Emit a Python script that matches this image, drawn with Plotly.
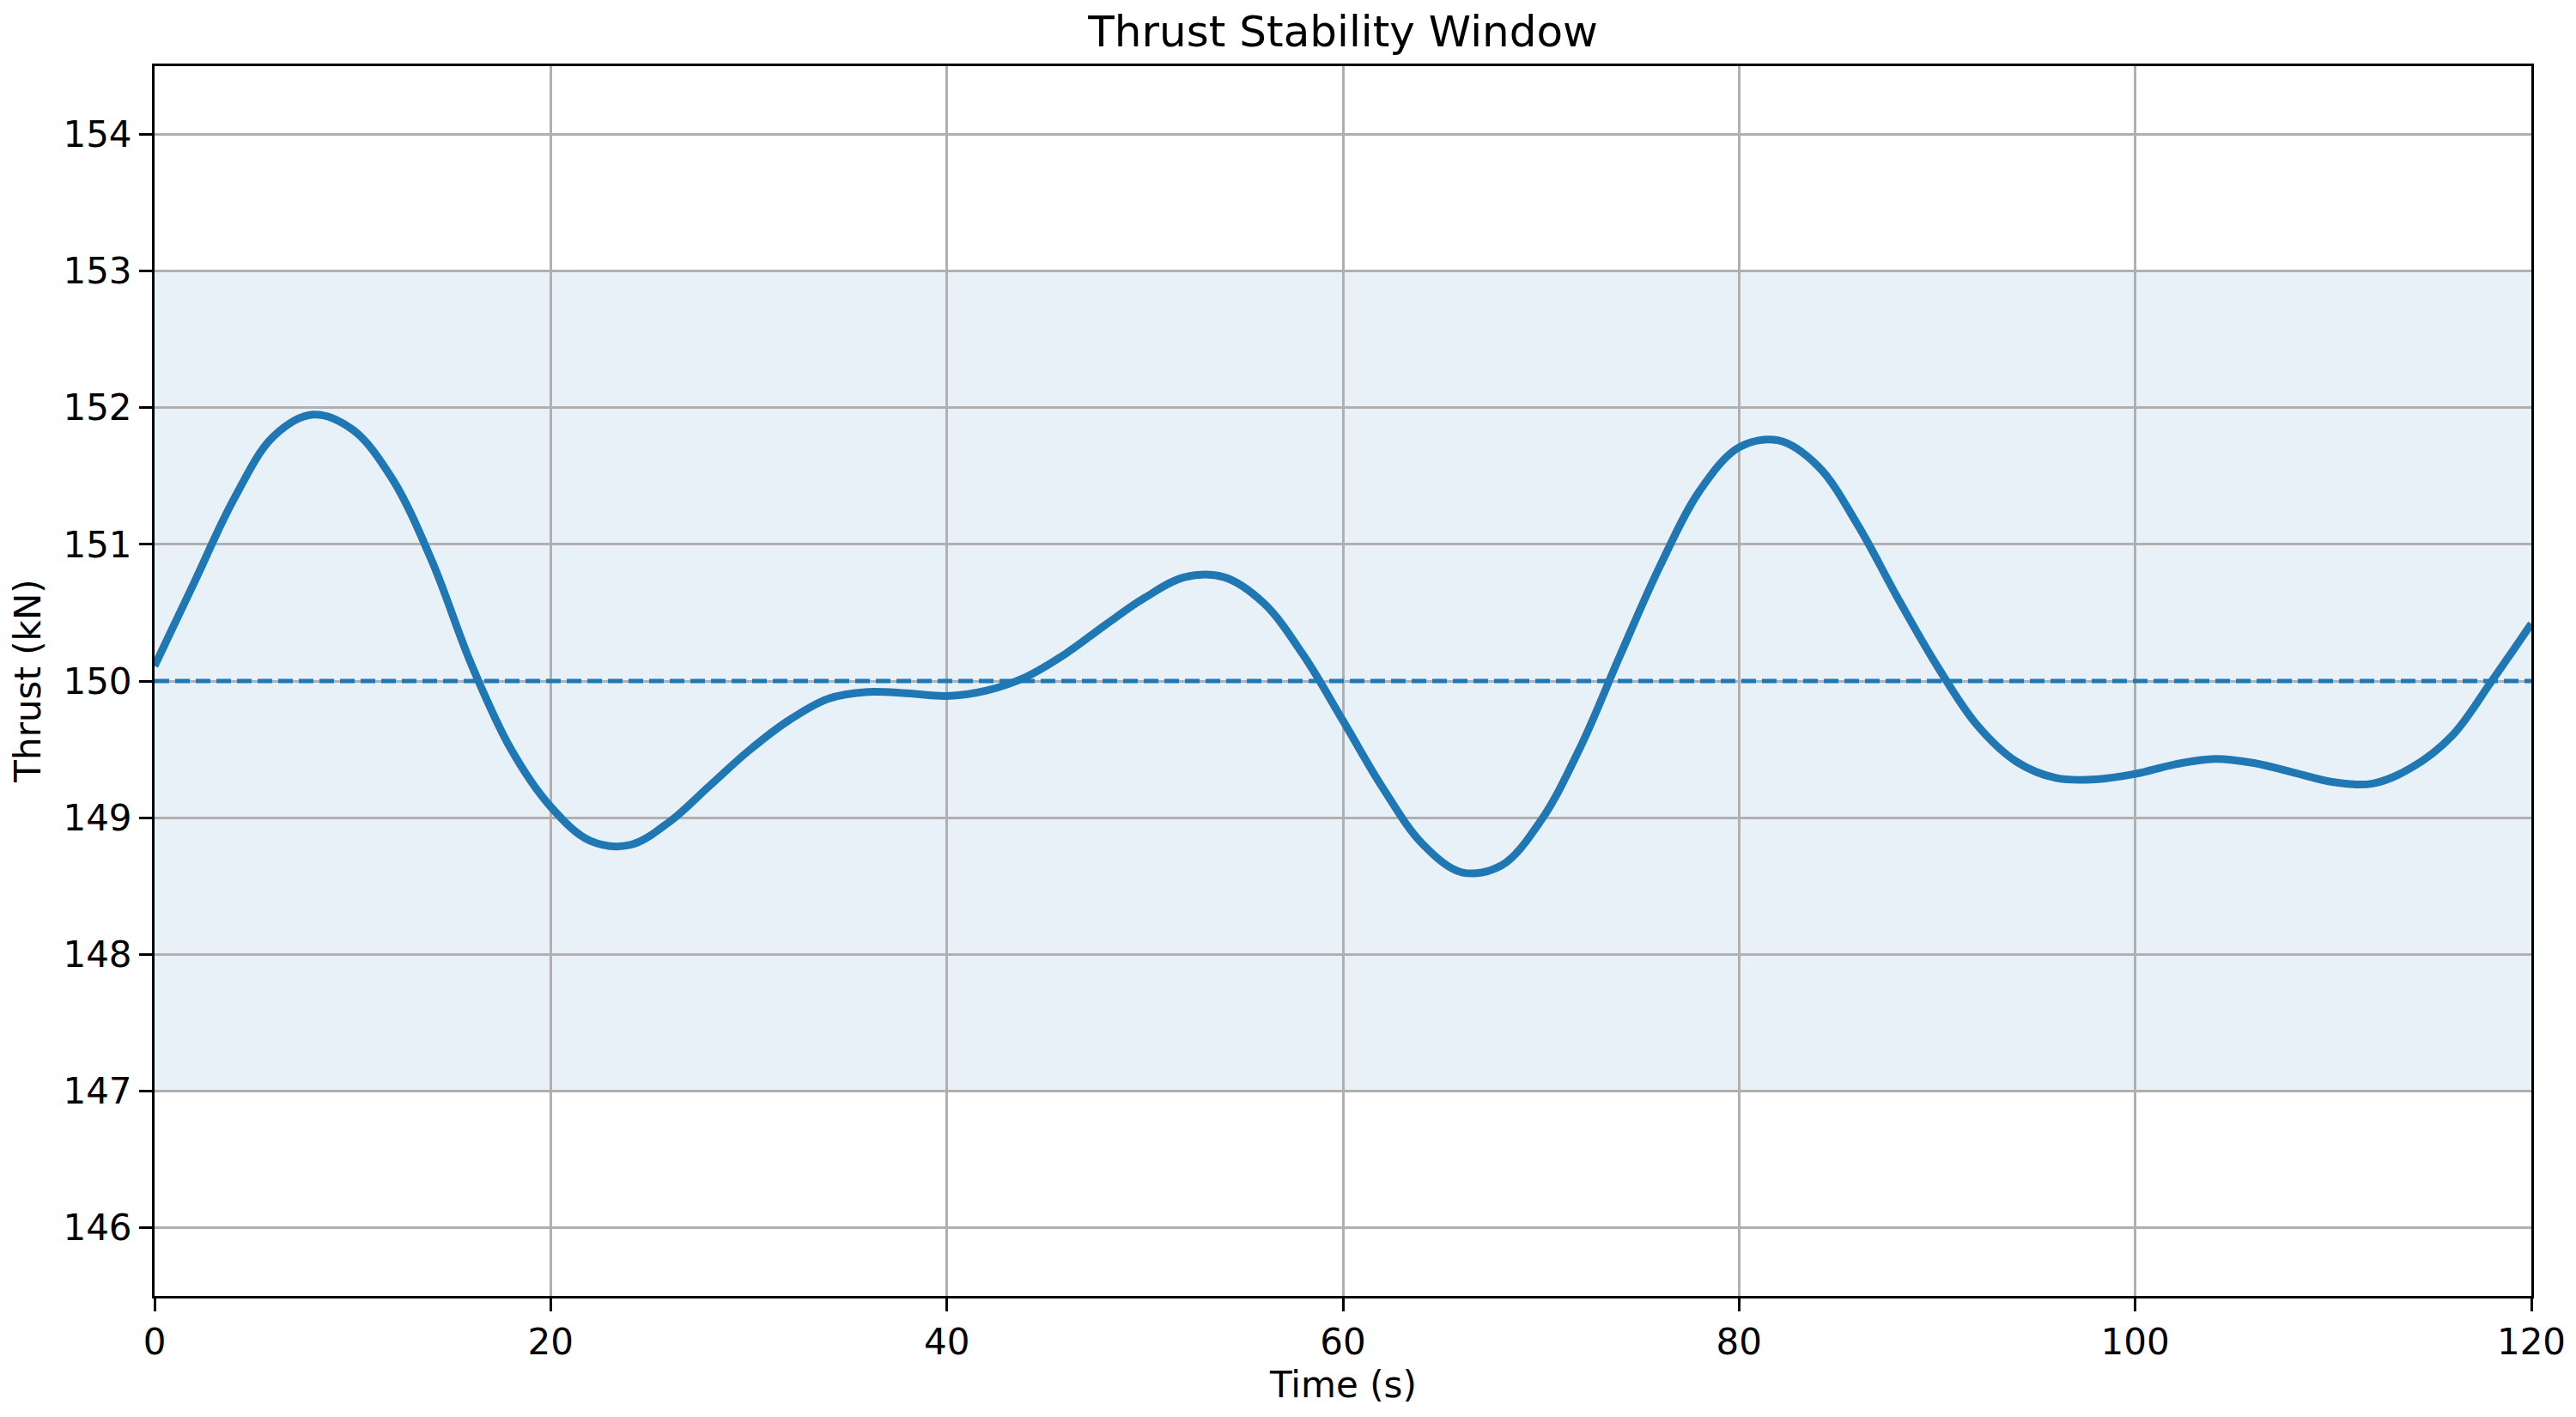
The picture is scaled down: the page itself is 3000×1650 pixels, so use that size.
import plotly.graph_objects as go

# thrust readings (s, kN)
time_s = [0, 2, 4, 6, 8, 10, 12, 14, 16, 18, 20, 22, 24, 26, 28, 30, 32, 34, 36, 38,
          40, 42, 44, 46, 48, 50, 52, 54, 56, 58, 60, 62, 64, 66, 68, 70, 72, 74, 76,
          78, 80, 82, 84, 86, 88, 90, 92, 94, 96, 98, 100, 102, 104, 106, 108, 110,
          112, 114, 116, 118, 120]
thrust_kn = [150.11, 150.72, 151.33, 151.79, 151.95, 151.84, 151.48, 150.88, 150.12,
             149.50, 149.08, 148.83, 148.80, 148.97, 149.23, 149.49, 149.71, 149.87,
             149.92, 149.91, 149.89, 149.93, 150.03, 150.20, 150.41, 150.61, 150.76,
             150.76, 150.57, 150.19, 149.71, 149.22, 148.81, 148.60, 148.65, 148.98,
             149.52, 150.19, 150.84, 151.39, 151.71, 151.76, 151.57, 151.14, 150.61,
             150.11, 149.68, 149.41, 149.29, 149.28, 149.32, 149.39, 149.43, 149.40,
             149.33, 149.26, 149.25, 149.37, 149.60, 150.00, 150.42]

target_kn = 150
band_low, band_high = 147, 153
x_ticks = [0, 20, 40, 60, 80, 100, 120]
y_ticks = [146, 147, 148, 149, 150, 151, 152, 153, 154]

blue = '#1f77b4'

fig = go.Figure()

# stability window
fig.add_shape(type='rect', xref='x', yref='y', x0=min(time_s), x1=max(time_s),
              y0=band_low, y1=band_high, fillcolor='rgb(233,241,248)',
              line=dict(width=0), layer='below')

fig.add_trace(go.Scatter(x=time_s, y=thrust_kn, mode='lines',
                         line=dict(color=blue, width=9, shape='spline', smoothing=1.0),
                         showlegend=False, hoverinfo='skip'))

fig.add_trace(go.Scatter(x=[min(time_s), max(time_s)], y=[target_kn, target_kn], mode='lines',
                         line=dict(color=blue, width=5, dash='17px,7px'),
                         showlegend=False, hoverinfo='skip'))

axis_common = dict(showline=True, mirror=True, linecolor='black', linewidth=3,
                   ticks='outside', ticklen=15, tickwidth=3, tickcolor='black',
                   showgrid=True, gridcolor='#b0b0b0', gridwidth=3, zeroline=False,
                   tickfont=dict(size=42, color='black'))

# page body adds an 8px offset, so the figure is 8px smaller
fig.update_layout(
    width=2992, height=1642,
    margin=dict(l=172, r=52, t=69, b=141),
    paper_bgcolor='white', plot_bgcolor='white',
    font=dict(family='DejaVu Sans', size=42, color='black'),
    title=dict(text='Thrust Stability Window', x=0.5201, xanchor='center',
               y=1 - 28 / 1642, yanchor='middle', font=dict(size=50)),
    xaxis=dict(range=[0, 120], tickvals=x_ticks, **axis_common),
    yaxis=dict(range=[145.5, 154.5], tickvals=y_ticks, **axis_common),
    annotations=[
        dict(text='Time (s)', xref='paper', yref='paper', x=0.5, y=-0.072,
             xanchor='center', yanchor='middle', showarrow=False, font=dict(size=42)),
        dict(text='Thrust (kN)', xref='paper', yref='paper', x=-0.0536, y=0.5,
             xanchor='center', yanchor='middle', textangle=-90, showarrow=False,
             font=dict(size=42)),
    ],
)

fig.write_html('out.html')
